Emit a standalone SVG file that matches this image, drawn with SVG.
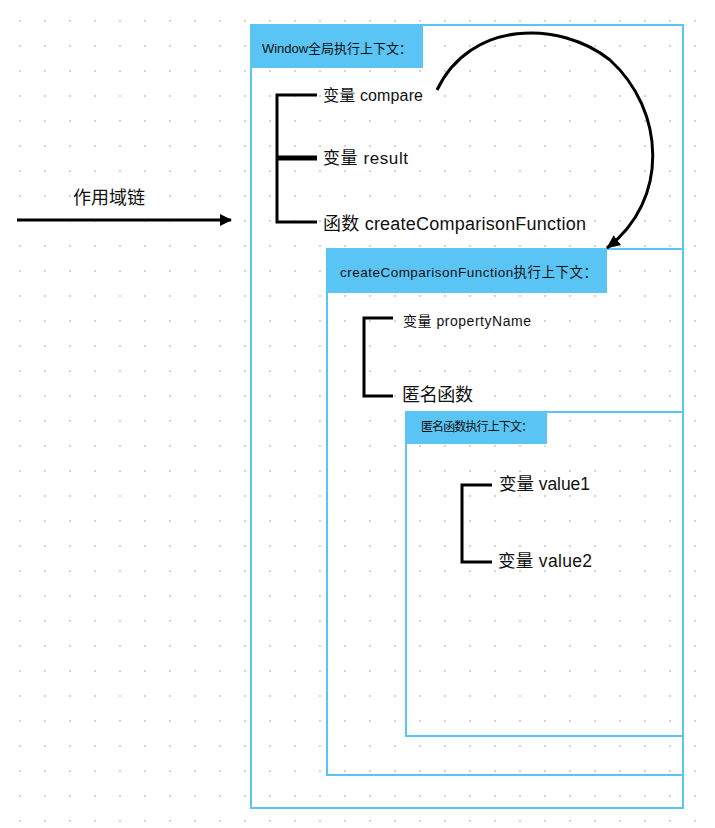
<svg xmlns="http://www.w3.org/2000/svg" width="715" height="828" viewBox="0 0 715 828">
<defs>
<pattern id="dots" x="0" y="0" width="25" height="25" patternUnits="userSpaceOnUse" patternTransform="translate(19,20)">
<rect x="0" y="0" width="2" height="2" fill="#d4d4d4"/>
</pattern>
<marker id="ah" viewBox="0 0 12 12" refX="11" refY="6" markerWidth="12" markerHeight="12" markerUnits="userSpaceOnUse" orient="auto">
<path d="M0,0 L12,6 L0,12 z" fill="#000"/>
</marker>
<marker id="ah2" viewBox="0 0 14 12" refX="13" refY="6" markerWidth="14" markerHeight="12" markerUnits="userSpaceOnUse" orient="auto">
<path d="M0,0 L14,6 L0,12 z" fill="#000"/>
</marker>
</defs>
<style>
text{font-family:"Liberation Sans","Noto Sans CJK SC",sans-serif;fill:#111;}
.box{fill:none;stroke:#5AC4F5;stroke-width:2;}
.hdr{fill:#5AC4F5;}
.br{fill:none;stroke:#000;stroke-width:3;}
</style>
<rect width="715" height="828" fill="#fff"/>
<rect width="715" height="828" fill="url(#dots)"/>

<g id="window-ctx">
<rect class="box" x="251" y="25" width="432" height="783"/>
<rect class="hdr" x="251" y="25" width="172" height="43"/>
<text x="262" y="53" font-size="13" textLength="150">Window全局执行上下文：</text>
<path class="br" d="M317,95 H277 V222 H317"/>
<path d="M277,158 H317" stroke="#000" stroke-width="5"/>
<text x="323" y="101" font-size="16" textLength="100">变量 compare</text>
<text x="323" y="164" font-size="17" textLength="85">变量 result</text>
<text x="323" y="230" font-size="18" textLength="263">函数 createComparisonFunction</text>
</g>

<g id="ccf-ctx">
<rect class="box" x="327" y="249" width="356" height="526"/>
<rect class="hdr" x="327" y="249" width="280" height="44"/>
<text x="340" y="277" font-size="13.5" textLength="257">createComparisonFunction执行上下文：</text>
<path class="br" d="M393,318 H364 V396 H393"/>
<text x="403" y="326" font-size="14" textLength="128">变量 propertyName</text>
<text x="402" y="401" font-size="18" textLength="71">匿名函数</text>
</g>

<g id="anon-ctx">
<rect class="box" x="406" y="412" width="277" height="324"/>
<rect class="hdr" x="406" y="412" width="141" height="32"/>
<text x="421" y="431" font-size="12" textLength="112">匿名函数执行上下文：</text>
<path class="br" d="M492,485 H462 V562 H492"/>
<text x="499" y="490" font-size="17.5" textLength="91">变量 value1</text>
<text x="498" y="567" font-size="17.5" textLength="94">变量 value2</text>
</g>

<g id="connectors">
<path d="M437,90 C470,20 560,20 610,60 C665,110 670,200 607,248" fill="none" stroke="#000" stroke-width="3" marker-end="url(#ah2)"/>
<path d="M17,220 H231" fill="none" stroke="#000" stroke-width="3" marker-end="url(#ah)"/>
<text x="73" y="204" font-size="18" textLength="72">作用域链</text>
</g>
</svg>
